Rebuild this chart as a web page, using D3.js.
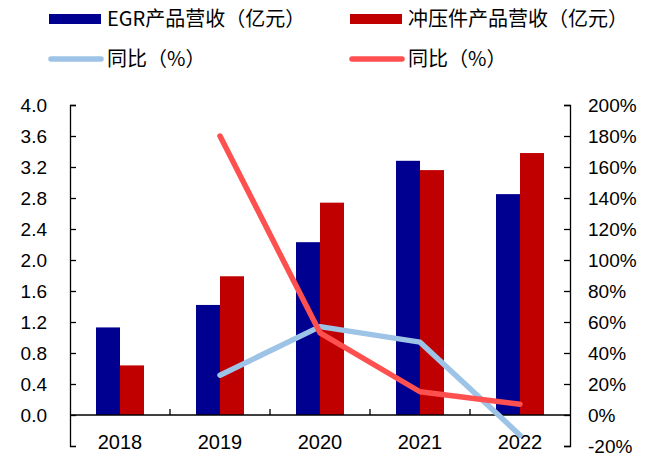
<!DOCTYPE html>
<meta charset="utf-8">
<style>
body { margin: 0; background: #fff; }
text { font-family: Arial, "Liberation Sans", "Noto Sans CJK SC", sans-serif; fill: #000; }
.legend text { font-family: "Noto Sans CJK SC", sans-serif; font-size: 20px; }
.axis text { font-size: 19px; }
.axis path, .axis line { stroke: #000; stroke-width: 1.3px; }
</style>
<svg width="658" height="459"></svg>
<script src="https://d3js.org/d3.v7.min.js"></script>
<script>
var years = ["2018", "2019", "2020", "2021", "2022"];
var egrRevenue = [1.13, 1.42, 2.23, 3.28, 2.85];
var stampRevenue = [0.64, 1.79, 2.74, 3.16, 3.38];
var egrGrowth = [null, 25.7, 57, 47, -13];
var stampGrowth = [null, 180, 53, 15, 7];
var leftTicks = [0, 0.4, 0.8, 1.2, 1.6, 2.0, 2.4, 2.8, 3.2, 3.6, 4.0];
var rightTicks = [-20, 0, 20, 40, 60, 80, 100, 120, 140, 160, 180, 200];

var svg = d3.select("svg");

var x = d3.scaleBand().domain(years).range([70, 570]);
var x2 = d3.scaleBand().domain(["egr", "stamp"]).range([x.bandwidth() / 2 - 24, x.bandwidth() / 2 + 24]);
var y = d3.scaleLinear().domain([-0.4, 4.0]).range([446, 105]);
var y2 = d3.scaleLinear().domain([-20, 200]).range([446, 105]);

// bars
var groups = svg.append("g").selectAll("g")
    .data(years)
    .enter().append("g")
    .attr("transform", function(d) { return "translate(" + x(d) + ",0)"; });

groups.append("rect")
    .attr("x", x2("egr"))
    .attr("width", x2.bandwidth())
    .attr("y", function(d, i) { return y(egrRevenue[i]); })
    .attr("height", function(d, i) { return y(0) - y(egrRevenue[i]); })
    .attr("fill", "#000090");

groups.append("rect")
    .attr("x", x2("stamp"))
    .attr("width", x2.bandwidth())
    .attr("y", function(d, i) { return y(stampRevenue[i]); })
    .attr("height", function(d, i) { return y(0) - y(stampRevenue[i]); })
    .attr("fill", "#C00000");

// axes
svg.append("g")
    .attr("class", "axis")
    .attr("transform", "translate(70,0)")
    .call(d3.axisLeft(y).tickValues(leftTicks).tickFormat(d3.format(".1f"))
        .tickSizeInner(-6).tickSizeOuter(-6).tickPadding(23));

svg.append("g")
    .attr("class", "axis")
    .attr("transform", "translate(570,0)")
    .call(d3.axisRight(y2).tickValues(rightTicks).tickFormat(function(d) { return d + "%"; })
        .tickSizeInner(-6).tickSizeOuter(-6).tickPadding(18));

var xAxis = svg.append("g")
    .attr("class", "axis")
    .attr("transform", "translate(0," + y(0) + ")");
xAxis.append("line")
    .attr("x1", 70).attr("x2", 570);
xAxis.selectAll(".sep")
    .data(years.slice(1))
    .enter().append("line")
    .attr("x1", function(d) { return x(d); })
    .attr("x2", function(d) { return x(d); })
    .attr("y1", 0).attr("y2", -6);
xAxis.selectAll("text")
    .data(years)
    .enter().append("text")
    .attr("x", function(d) { return x(d) + x.bandwidth() / 2; })
    .attr("y", 34)
    .attr("text-anchor", "middle")
    .style("font-size", "20px")
    .text(function(d) { return d; });

// growth lines
var line = d3.line()
    .defined(function(d) { return d[1] != null; })
    .x(function(d) { return x(d[0]) + x.bandwidth() / 2; })
    .y(function(d) { return y2(d[1]); });

svg.append("path")
    .datum(years.map(function(d, i) { return [d, egrGrowth[i]]; }))
    .attr("d", line)
    .attr("fill", "none")
    .attr("stroke", "#9DC3E6")
    .attr("stroke-width", 5.5)
    .attr("stroke-linecap", "round")
    .attr("stroke-linejoin", "round");

svg.append("path")
    .datum(years.map(function(d, i) { return [d, stampGrowth[i]]; }))
    .attr("d", line)
    .attr("fill", "none")
    .attr("stroke", "#FF5050")
    .attr("stroke-width", 5.5)
    .attr("stroke-linecap", "round")
    .attr("stroke-linejoin", "round");

// legend
var legend = svg.append("g").attr("class", "legend");
var items = [
  {name: "EGR产品营收（亿元）", type: "bar", color: "#000090", x: 49, y: 19},
  {name: "冲压件产品营收（亿元）", type: "bar", color: "#C00000", x: 350, y: 19},
  {name: "同比（%）", type: "line", color: "#9DC3E6", x: 49, y: 59},
  {name: "同比（%）", type: "line", color: "#FF5050", x: 350, y: 59}
];
items.forEach(function(d) {
  if (d.type == "bar") {
    legend.append("rect")
        .attr("x", d.x).attr("y", d.y - 5)
        .attr("width", 52).attr("height", 10)
        .attr("fill", d.color);
  } else {
    legend.append("line")
        .attr("x1", d.x + 2).attr("x2", d.x + 52)
        .attr("y1", d.y).attr("y2", d.y)
        .attr("stroke", d.color)
        .attr("stroke-width", 5.5)
        .attr("stroke-linecap", "round");
  }
  legend.append("text")
      .attr("x", d.x + 58)
      .attr("y", d.y)
      .attr("dy", "0.35em")
      .text(d.name);
});
</script>
